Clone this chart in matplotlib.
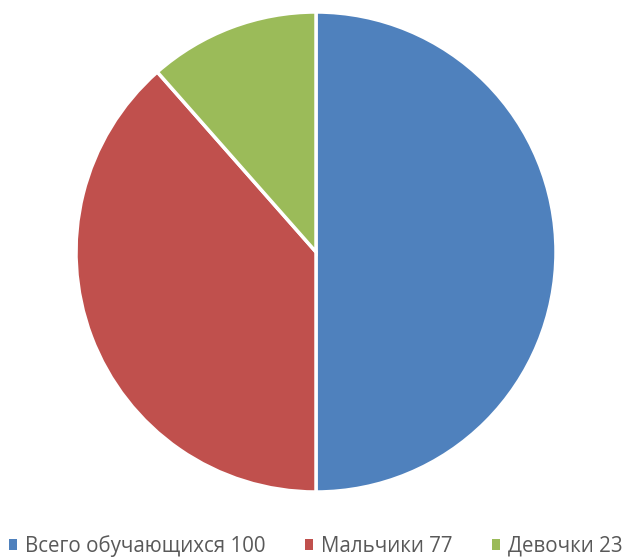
import matplotlib
matplotlib.use("Agg")
import matplotlib.pyplot as plt
from matplotlib.patches import Patch

labels = ["Всего обучающихся 100", "Мальчики 77", "Девочки 23"]
values = [100, 77, 23]
colors = ["#4F81BD", "#C0504D", "#9BBB59"]

W, H = 632, 557
fig = plt.figure(figsize=(W/100, H/100), dpi=100)
cx, cy, r = 316, 252, 240
ax = fig.add_axes([(cx - r)/W, (H - cy - r)/H, 2*r/W, 2*r/H])
ax.pie(values, colors=colors, startangle=90, counterclock=False,
       wedgeprops=dict(edgecolor="white", linewidth=2.5))
ax.set_aspect("equal")
ax.set_xlim(-1, 1)
ax.set_ylim(-1, 1)

handles = [Patch(facecolor=c, edgecolor="none") for c in colors]
leg = fig.legend(handles, labels, loc="center", bbox_to_anchor=(0.5, 1 - 546/H),
                 ncol=3, frameon=False, handlelength=0.4,
                 handleheight=0.45, handletextpad=0.4, columnspacing=1.9,
                 prop={"family": ["Open Sans", "DejaVu Sans"], "size": 14.8})
for t in leg.get_texts():
    t.set_color("#595959")

fig.savefig("out.png", dpi=100)
